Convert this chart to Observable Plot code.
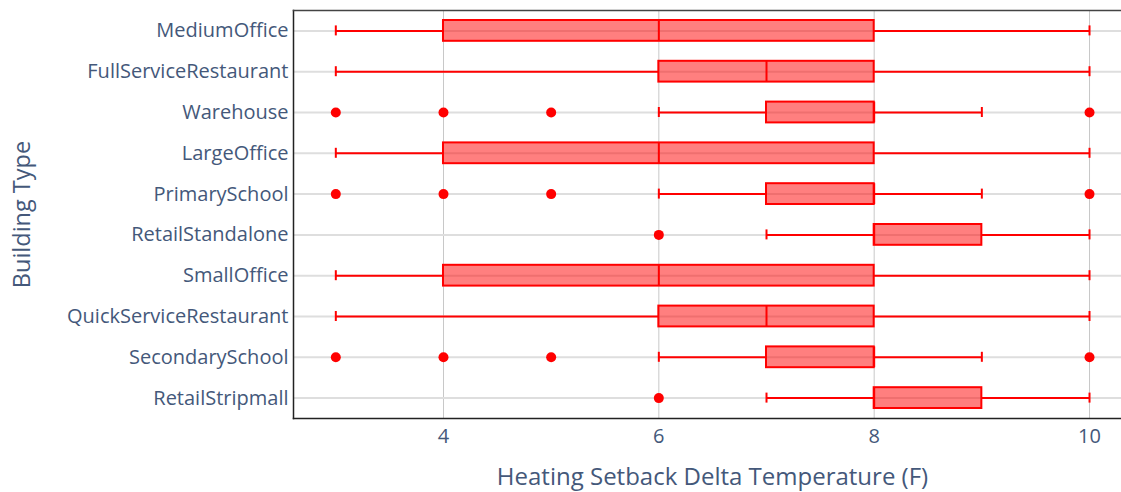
<!DOCTYPE html>
<html>
<head>
<meta charset="utf-8">
<script src="https://cdn.jsdelivr.net/npm/d3@7"></script>
<script src="https://cdn.jsdelivr.net/npm/@observablehq/plot@0.6"></script>
<style>
  html, body { margin: 0; padding: 0; background: #fff; }
  #chart svg { display: block; }
</style>
</head>
<body>
<div id="chart"></div>
<script>
const categories = ["MediumOffice", "FullServiceRestaurant", "Warehouse", "LargeOffice", "PrimarySchool",
  "RetailStandalone", "SmallOffice", "QuickServiceRestaurant", "SecondarySchool", "RetailStripmall"];
const lowerWhisker = [3, 3, 6, 3, 6, 7, 3, 3, 6, 7];
const q1 =           [4, 6, 7, 4, 7, 8, 4, 6, 7, 8];
const median =       [6, 7, 8, 6, 8, 8, 6, 7, 8, 8];
const q3 =           [8, 8, 8, 8, 8, 9, 8, 8, 8, 9];
const upperWhisker = [10, 10, 9, 10, 9, 10, 10, 10, 9, 10];
const outliers = [[], [], [3, 4, 5, 10], [], [3, 4, 5, 10], [6], [], [], [3, 4, 5, 10], [6]];
const xTicks = [4, 6, 8, 10];
const xTitle = "Heating Setback Delta Temperature (F)";
const yTitle = "Building Type";

const boxes = categories.map((c, i) => ({
  cat: c, lo: lowerWhisker[i], q1: q1[i], med: median[i], q3: q3[i], hi: upperWhisker[i]
}));
const outlierRows = categories.flatMap((c, i) => outliers[i].map(v => ({cat: c, v})));

const RED = "#ff0000";
const TEXT = "#44587a";

const chart = Plot.plot({
  width: 1121,
  height: 492,
  marginLeft: 293,
  marginRight: 0,
  marginTop: 10,
  marginBottom: 74,
  style: {fontFamily: "'Open Sans', sans-serif", color: TEXT, background: "#fff"},
  x: {domain: [2.607, 10.297], ticks: xTicks, label: null},
  y: {domain: categories, padding: 0, round: false, label: null},
  marks: [
    Plot.gridX(xTicks, {stroke: "#c8c8c8", strokeOpacity: 1, strokeWidth: 1}),
    Plot.ruleY(categories, {y: d => d, stroke: "#dedede", strokeWidth: 2}),
    Plot.ruleY(boxes, {y: "cat", x1: "lo", x2: "q1", stroke: RED, strokeWidth: 2}),
    Plot.ruleY(boxes, {y: "cat", x1: "q3", x2: "hi", stroke: RED, strokeWidth: 2}),
    Plot.tickX(boxes, {x: "lo", y: "cat", insetTop: 15.4, insetBottom: 15.4, stroke: RED, strokeWidth: 2}),
    Plot.tickX(boxes, {x: "hi", y: "cat", insetTop: 15.4, insetBottom: 15.4, stroke: RED, strokeWidth: 2}),
    Plot.barX(boxes, {y: "cat", x1: "q1", x2: "q3", insetTop: 10, insetBottom: 10,
      fill: RED, fillOpacity: 0.5, stroke: RED, strokeWidth: 2}),
    Plot.tickX(boxes, {x: "med", y: "cat", insetTop: 10, insetBottom: 10, stroke: RED, strokeWidth: 2}),
    Plot.dot(outlierRows, {x: "v", y: "cat", r: 5, fill: RED, stroke: "none"}),
    Plot.frame({anchor: "left", stroke: "#222", strokeWidth: 1.5}),
    Plot.frame({anchor: "top", stroke: "#444", strokeWidth: 1.5}),
    Plot.frame({anchor: "bottom", stroke: "#222", strokeWidth: 1.5}),
    Plot.axisX({ticks: xTicks, tickSize: 0, tickPadding: 10, fontSize: 20, label: null, tickFormat: d => String(d)}),
    Plot.axisY({tickSize: 0, tickPadding: 5, fontSize: 20, label: null}),
    Plot.text([xTitle], {frameAnchor: "bottom", dx: 5, dy: 66, fontSize: 24, fill: TEXT}),
    Plot.text([yTitle], {frameAnchor: "left", textAnchor: "middle", dx: -271, rotate: -90, fontSize: 23.5, fill: TEXT})
  ]
});
document.getElementById("chart").appendChild(chart);
</script>
</body>
</html>
